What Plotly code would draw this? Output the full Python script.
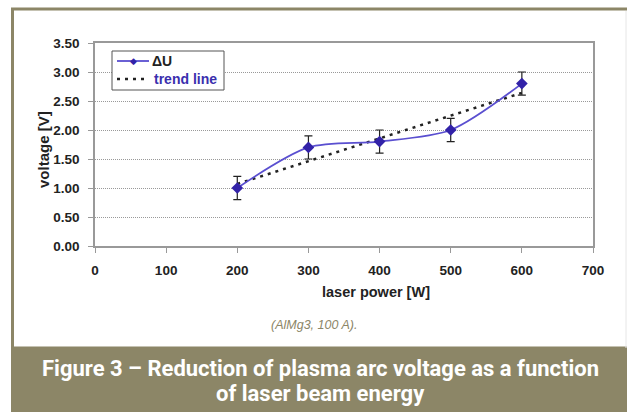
import plotly.graph_objects as go

# ---- data ----
laser_power = [200, 300, 400, 500, 600]
delta_u = [1.0, 1.7, 1.8, 2.0, 2.8]
delta_u_err = [0.2, 0.2, 0.2, 0.2, 0.2]
trend_x = [200, 600]
trend_y = [1.07, 2.64]
x_ticks = [0, 100, 200, 300, 400, 500, 600, 700]
x_tick_labels = ["0", "100", "200", "300", "400", "500", "600", "700"]
y_ticks = [0.0, 0.5, 1.0, 1.5, 2.0, 2.5, 3.0, 3.5]
y_tick_labels = ["0.00", "0.50", "1.00", "1.50", "2.00", "2.50", "3.00", "3.50"]

W, H = 627, 412
L, R, T, B = 95, 593, 43, 246
OLIVE = "#8c8667"
BLUE = "#3a2fae"
LINE = "#5a4fd0"
MARK = "#3222a8"


def px(x):
    return (x - L) / (R - L)


def py(y):
    return (B - y) / (B - T)


fig = go.Figure()

fig.add_trace(go.Scatter(
    x=trend_x, y=trend_y, mode="lines", name="trend line",
    line=dict(color="#222222", width=2.5, dash="3px,5px"),
    showlegend=False,
))
fig.add_trace(go.Scatter(
    x=laser_power, y=delta_u, mode="lines+markers", name="ΔU",
    line=dict(color=LINE, width=1.8, shape="spline", smoothing=0.8),
    marker=dict(symbol="diamond", size=9, color=MARK),
    error_y=dict(type="data", array=delta_u_err, color="#222222",
                 thickness=1.2, width=4),
    showlegend=False,
))

shapes = []
# outer frame
shapes.append(dict(type="rect", xref="paper", yref="paper",
                   x0=px(12.5), x1=px(640), y0=py(9), y1=py(348),
                   line=dict(color=OLIVE, width=3), fillcolor="rgba(0,0,0,0)", layer="below"))
shapes.append(dict(type="line", xref="paper", yref="paper",
                   x0=px(626), x1=px(626), y0=py(11), y1=py(348),
                   line=dict(color="#e6e6e6", width=1)))
# caption band
shapes.append(dict(type="rect", xref="paper", yref="paper",
                   x0=px(11), x1=px(640), y0=py(348), y1=py(420),
                   line=dict(width=0), fillcolor=OLIVE))
# legend box
shapes.append(dict(type="rect", xref="paper", yref="paper",
                   x0=px(112), x1=px(224), y0=py(51), y1=py(90),
                   line=dict(color="#555555", width=1), fillcolor="white"))
shapes.append(dict(type="line", xref="paper", yref="paper",
                   x0=px(117), x1=px(149), y0=py(61), y1=py(61),
                   line=dict(color=LINE, width=1.8)))
shapes.append(dict(type="line", xref="paper", yref="paper",
                   x0=px(117), x1=px(149), y0=py(79), y1=py(79),
                   line=dict(color="#222222", width=2.5, dash="3px,5px")))


def ann(x, y, text, size, color, family="Liberation Sans", xanchor="center", **kw):
    return dict(xref="paper", yref="paper", x=px(x), y=py(y), text=text,
                showarrow=False, xanchor=xanchor, yanchor="middle",
                font=dict(size=size, color=color, family=family), **kw)


annotations = [
    ann(133, 61, "◆", 9, MARK, family="DejaVu Sans"),
    ann(150, 61, "<b>ΔU</b>", 14, "#222222", xanchor="left"),
    ann(152, 79, "<b>trend line</b>", 14, BLUE, xanchor="left"),
    ann(376, 292, "<b>laser power [W]</b>", 14.5, "#222222"),
    ann(43, 150, "<b>voltage [V]</b>", 15, "#222222", textangle=-90),
    ann(314, 325, "<i>(AlMg3, 100 A).</i>", 12.5, OLIVE),
    ann(320, 368, "<b>Figure 3 – Reduction of plasma arc voltage as a function</b>", 22, "white", family="Roboto"),
    ann(320, 393, "<b>of laser beam energy</b>", 22, "white", family="Roboto"),
]

fig.update_layout(
    width=W, height=H,
    margin=dict(l=L, r=W - R, t=T, b=H - B),
    paper_bgcolor="white", plot_bgcolor="white",
    shapes=shapes, annotations=annotations,
    showlegend=False,
    xaxis=dict(range=[0, 700], tickvals=x_ticks, ticktext=["<b>%s</b>" % t for t in x_tick_labels],
               showgrid=False, zeroline=False,
               showline=True, linecolor="#999999", linewidth=1.5, mirror=True,
               ticks="outside", ticklen=5, tickcolor="#999999", ticklabelstandoff=6,
               tickfont=dict(size=13.5, color="#222222", family="Liberation Sans")),
    yaxis=dict(range=[0, 3.5], tickvals=y_ticks, ticktext=["<b>%s</b>" % t for t in y_tick_labels],
               showgrid=True, gridcolor="#999999", griddash="1px,1px", gridwidth=1,
               zeroline=False, showline=True, linecolor="#999999", linewidth=1.5, mirror=True,
               ticks="outside", ticklen=5, tickcolor="#999999", ticklabelstandoff=6,
               tickfont=dict(size=13.5, color="#222222", family="Liberation Sans")),
)

fig.write_html("out.html")
